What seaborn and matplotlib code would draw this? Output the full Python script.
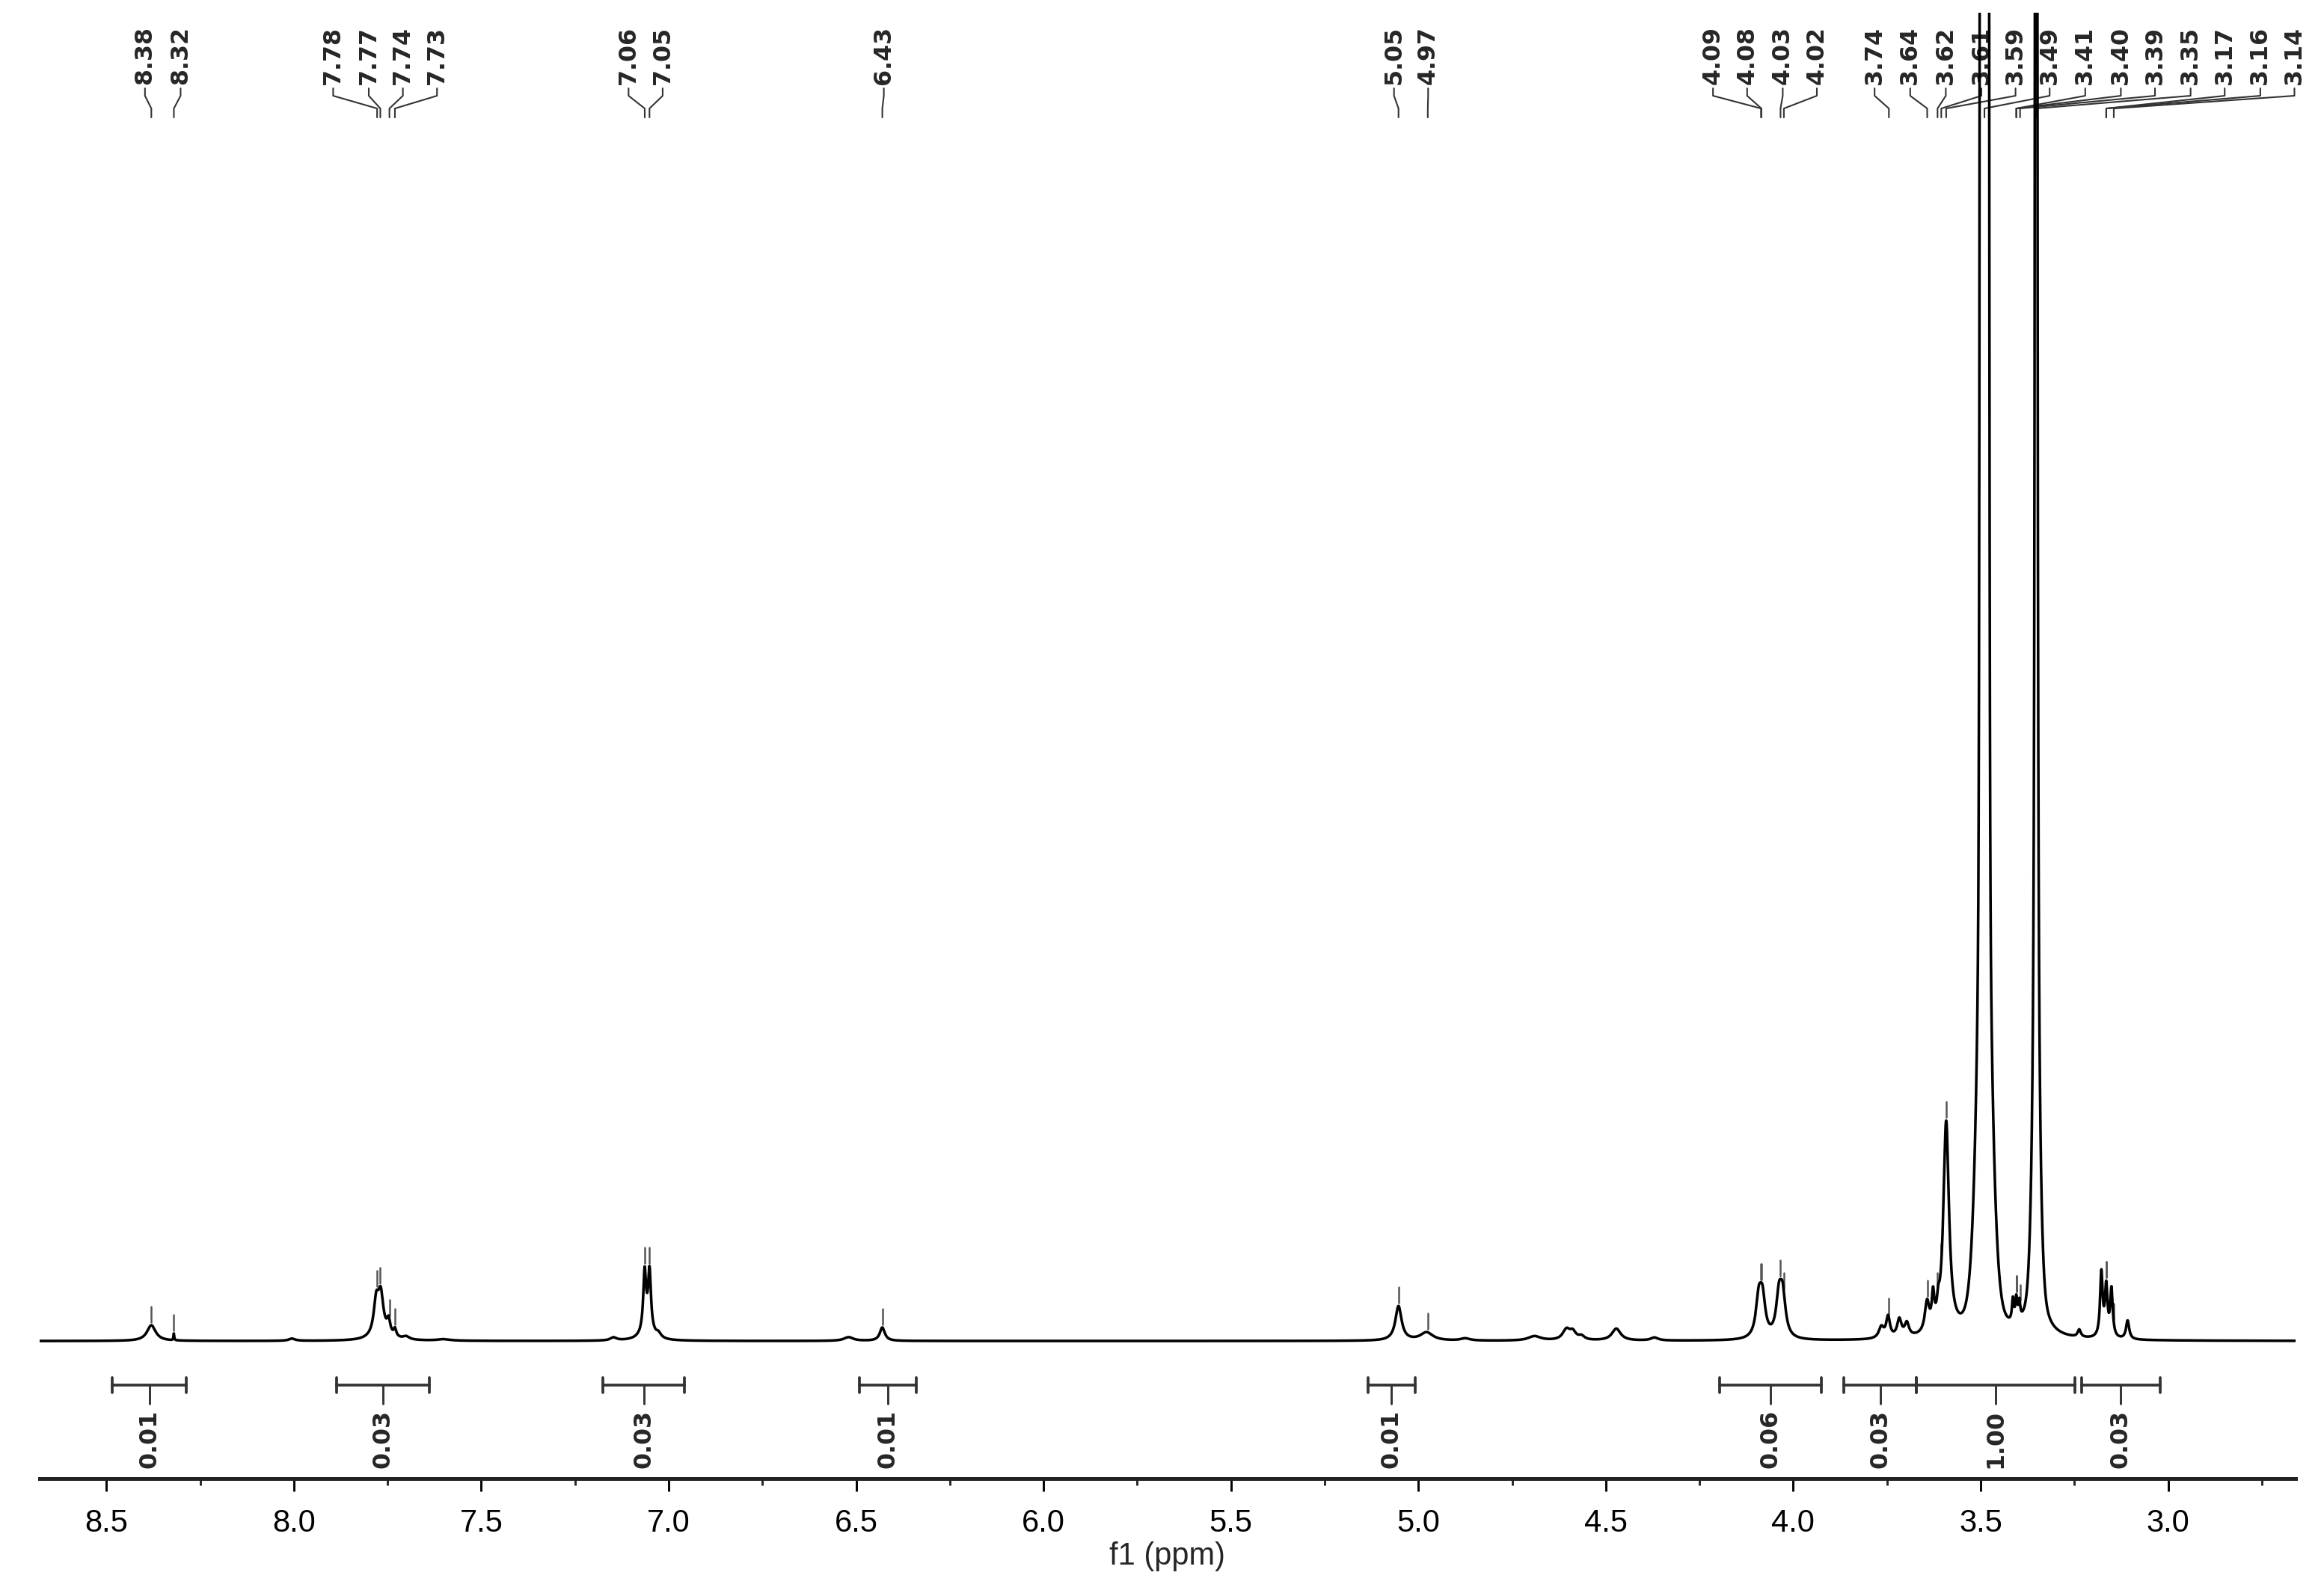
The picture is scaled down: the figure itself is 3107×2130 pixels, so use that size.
import numpy as np
import pandas as pd
import matplotlib
matplotlib.use("Agg")
import matplotlib.pyplot as plt
import seaborn as sns
from matplotlib.ticker import MultipleLocator

# Lorentzian lines (ppm, height, half width)
peak_ppm = [8.38, 8.32, 8.005,
            7.78, 7.768, 7.765, 7.747, 7.73, 7.70, 7.60,
            7.147, 7.064, 7.051, 7.057, 7.027,
            6.52, 6.43,
            5.053, 4.978, 4.875, 4.69, 4.605, 4.588, 4.565, 4.472, 4.37,
            4.092, 4.082, 4.038, 4.028,
            3.765, 3.747, 3.717, 3.697, 3.643, 3.627, 3.613, 3.592,
            3.49, 3.414, 3.405, 3.397, 3.352, 3.352,
            3.237, 3.178, 3.165, 3.151, 3.108]
peak_height = [21, 9, 3,
               44, 48, 10, 18, 10, 4, 2,
               4, 80, 80, 12, 6,
               5, 18,
               46, 11, 3, 6, 14, 10, 5, 16, 4,
               49, 49, 52, 52,
               15, 28, 24, 18, 40, 42, 20, 284,
               20000, 30, 30, 24, 20000, 30,
               10, 86, 66, 64, 25]
peak_width = [0.014, 0.0012, 0.01,
              0.008, 0.008, 0.025, 0.005, 0.004, 0.01, 0.02,
              0.01, 0.0045, 0.0045, 0.02, 0.008,
              0.015, 0.008,
              0.01, 0.02, 0.015, 0.02, 0.012, 0.01, 0.01, 0.014, 0.012,
              0.009, 0.009, 0.009, 0.009,
              0.008, 0.006, 0.007, 0.007, 0.007, 0.004, 0.004, 0.009,
              0.002, 0.003, 0.003, 0.003, 0.001, 0.03,
              0.005, 0.004, 0.004, 0.004, 0.005]

# gaussian cores of the two big solvent lines
core_ppm = [3.49, 3.49, 3.352]
core_height = [100000, 356, 200]
core_sigma = [0.0042, 0.018, 0.01]

# peak picking labels
label_ppm = [8.38, 8.32, 7.78, 7.77, 7.74, 7.73, 7.06, 7.05, 6.43, 5.05, 4.97,
             4.09, 4.08, 4.03, 4.02, 3.74, 3.64, 3.62, 3.61, 3.59, 3.49,
             3.41, 3.40, 3.39, 3.35, 3.17, 3.16, 3.14]

# integrals
integral_from = [8.484, 7.886, 7.175, 6.492, 5.135, 4.197, 3.865, 3.671, 3.230]
integral_to = [8.287, 7.638, 6.957, 6.340, 5.008, 3.926, 3.671, 3.249, 3.022]
integral_value = [0.01, 0.03, 0.03, 0.01, 0.01, 0.06, 0.03, 1.00, 0.03]

# where the labels sit (spread out like the NMR software does)
label_x = [8.397, 8.302, 7.895, 7.800, 7.709, 7.618, 7.107, 7.016, 6.426, 5.065, 4.974,
           4.214, 4.123, 4.028, 3.937, 3.783, 3.688, 3.593, 3.498, 3.407, 3.316,
           3.221, 3.126, 3.035, 2.940, 2.849, 2.754, 2.663]

# build spectrum
ppm = np.linspace(2.6, 8.75, 40000)
intensity = np.zeros_like(ppm)
for c, h, w in zip(peak_ppm, peak_height, peak_width):
    intensity += h * w**2 / ((ppm - c)**2 + w**2)
for c, h, s in zip(core_ppm, core_height, core_sigma):
    intensity += h * np.exp(-(ppm - c)**2 / (2 * s**2))
df = pd.DataFrame({"ppm": ppm, "intensity": intensity})

sns.set_style("white")
fig = plt.figure(figsize=(3107 / 300, 2130 / 300), dpi=300)
ax = fig.add_axes([0.01706, 0.0718, 0.9707, 0.9202])

sns.lineplot(data=df, x="ppm", y="intensity", color="black", linewidth=0.85,
             estimator=None, sort=False, ax=ax, zorder=5)

ax.set_xlim(8.678, 2.66)
ax.set_ylim(-184, 1776)

# peak markers + labels
lab_font = dict(family="DejaVu Sans", weight="bold", size=7.6)
for p, lx in zip(label_ppm, label_x):
    win = (ppm > p - 0.005) & (ppm < p + 0.005)
    i = np.argmax(np.where(win, intensity, -1))
    px, py = ppm[i], intensity[i]
    if py < 1500:
        ax.plot([px, px], [py + 4, py + 25], color="#555555", lw=0.6, zorder=4)
    ax.text(lx, 1680, f"{p:.2f}", rotation=90, ha="center", va="bottom", **lab_font)
    ax.plot([lx, lx, px, px], [1675, 1665, 1648, 1636], color="#333333", lw=0.5, zorder=3)

# integral bars
for a, b, v in zip(integral_from, integral_to, integral_value):
    mid = (a + b) / 2
    ax.plot([a, b], [-59, -59], color="#333333", lw=0.9)
    ax.plot([a, a], [-49, -69], color="#333333", lw=0.9)
    ax.plot([b, b], [-49, -69], color="#333333", lw=0.9)
    ax.plot([mid, mid], [-59, -84], color="#333333", lw=0.7)
    ax.text(mid, -92, f"{v:.2f}", rotation=90, ha="center", va="top", **lab_font)

for s in ["left", "right", "top"]:
    ax.spines[s].set_visible(False)
ax.spines["bottom"].set_color("#222222")
ax.spines["bottom"].set_linewidth(1.2)
ax.set_yticks([])
ax.xaxis.set_major_locator(MultipleLocator(0.5))
ax.xaxis.set_minor_locator(MultipleLocator(0.25))
ax.tick_params(axis="x", which="major", direction="out", length=4.1, width=0.7, pad=5.5,
               bottom=True, labelsize=10, colors="black")
ax.tick_params(axis="x", which="minor", direction="out", length=2.2, width=0.7, bottom=True)
for t in ax.get_xticklabels():
    t.set_family("Liberation Sans")
ax.set_xlabel("f1 (ppm)", family="Liberation Sans", fontsize=10, labelpad=1)
ax.set_ylabel("")

fig.savefig("out.png", dpi=300)
